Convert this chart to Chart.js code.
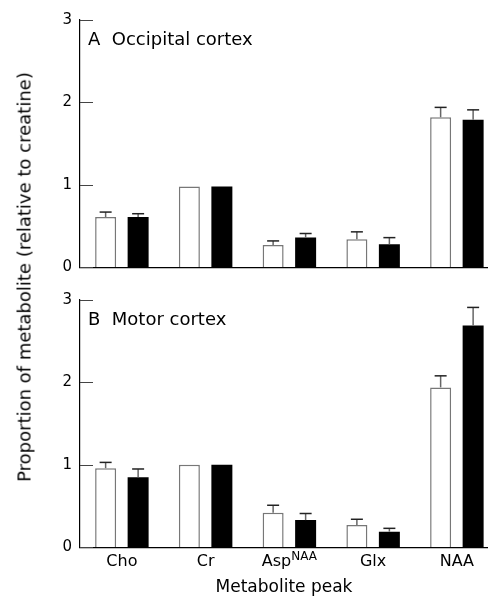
<!DOCTYPE html>
<html>
<head>
<meta charset="utf-8">
<script src="https://cdn.jsdelivr.net/npm/chart.js@4.4.0/dist/chart.umd.min.js"></script>
<style>
  html, body { margin: 0; padding: 0; background: #fff; overflow: hidden; }
  #wrap { position: relative; width: 488px; height: 599px; }
  #topPanel { position: absolute; left: 0; top: 0; }
  #bottomPanel { position: absolute; left: 0; top: 280px; }
  #ytitle {
    position: absolute; left: 24px; top: 277px;
    transform: translate(-50%, -50%) rotate(-90deg);
    white-space: nowrap; font: 18px "DejaVu Sans"; color: #000;
  }
</style>
</head>
<body>
<div id="wrap">
  <canvas id="topPanel" width="488" height="286"></canvas>
  <canvas id="bottomPanel" width="488" height="319"></canvas>
  <div id="ytitle">Proportion of metabolite (relative to creatine)</div>
</div>
<script>
// metabolite peaks on the x axis
const categories = ['Cho', 'Cr', 'AspNAA', 'Glx', 'NAA'];
const yTicks = [0, 1, 2, 3];

// A  Occipital cortex
const occOpen = [0.61, 0.98, 0.27, 0.34, 1.82];
const occOpenErr = [0.06, 0, 0.05, 0.09, 0.12];
const occFilled = [0.61, 0.98, 0.36, 0.28, 1.79];
const occFilledErr = [0.04, 0, 0.05, 0.08, 0.12];

// B  Motor cortex
const motOpen = [0.96, 1.0, 0.42, 0.27, 1.94];
const motOpenErr = [0.07, 0, 0.09, 0.07, 0.14];
const motFilled = [0.85, 1.0, 0.33, 0.19, 2.69];
const motFilledErr = [0.10, 0, 0.08, 0.04, 0.22];

const FONT = '"DejaVu Sans", sans-serif';

// upward error bars with a cap
const errorBars = {
  id: 'errorBars',
  afterDatasetsDraw(chart) {
    const ctx = chart.ctx;
    const yScale = chart.scales.y;
    chart.data.datasets.forEach((ds, di) => {
      const meta = chart.getDatasetMeta(di);
      meta.data.forEach((bar, i) => {
        const err = ds.errors[i];
        if (!err) return;
        const top = yScale.getPixelForValue(ds.data[i].y + err);
        ctx.save();
        ctx.lineWidth = 1.5;
        ctx.strokeStyle = '#666';
        ctx.beginPath();
        ctx.moveTo(bar.x, bar.y);
        ctx.lineTo(bar.x, top);
        ctx.stroke();
        ctx.strokeStyle = '#222';
        ctx.beginPath();
        ctx.moveTo(bar.x - 6, top);
        ctx.lineTo(bar.x + 6, top);
        ctx.stroke();
        ctx.restore();
      });
    });
  }
};

// inward tick marks on the y axis + panel label + superscript label
const panelDecor = {
  id: 'panelDecor',
  afterDraw(chart, args, opts) {
    const ctx = chart.ctx;
    const area = chart.chartArea;
    const yScale = chart.scales.y;
    ctx.save();
    ctx.strokeStyle = '#444';
    ctx.lineWidth = 1;
    yTicks.forEach(v => {
      const y = Math.round(yScale.getPixelForValue(v)) + 0.5;
      ctx.beginPath();
      ctx.moveTo(area.left, y);
      ctx.lineTo(area.left + 13, y);
      ctx.stroke();
    });

    ctx.fillStyle = '#000';
    ctx.font = '18px ' + FONT;
    ctx.textBaseline = 'alphabetic';
    ctx.textAlign = 'left';
    ctx.fillText(opts.label, area.left + 8, area.top + 25);

    if (opts.showX) {
      const xScale = chart.scales.x;
      const cx = xScale.getPixelForValue(2);
      const cy = xScale.top + 5 + 9.6;
      ctx.font = '16px ' + FONT;
      const w1 = ctx.measureText('Asp').width;
      ctx.font = '12px ' + FONT;
      const w2 = ctx.measureText('NAA').width;
      const x0 = cx - (w1 + w2) / 2;
      ctx.textBaseline = 'middle';
      ctx.font = '16px ' + FONT;
      ctx.fillText('Asp', x0, cy);
      ctx.font = '12px ' + FONT;
      ctx.fillText('NAA', x0 + w1, cy - 5);
    }
    ctx.restore();
  }
};

function makePanel(id, label, openVals, openErr, filledVals, filledErr, showX) {
  const toPoints = arr => arr.map((v, i) => ({ x: i, y: v }));
  return new Chart(document.getElementById(id), {
    type: 'bar',
    data: {
      datasets: [
        {
          data: toPoints(openVals),
          errors: openErr,
          backgroundColor: '#fff',
          borderColor: '#777',
          borderWidth: 1.5
        },
        {
          data: toPoints(filledVals),
          errors: filledErr,
          backgroundColor: '#000',
          borderWidth: 0
        }
      ]
    },
    options: {
      responsive: false,
      animation: false,
      devicePixelRatio: 1,
      categoryPercentage: 0.776,
      barPercentage: 0.646,
      layout: { padding: { top: 20, left: 0, right: 0, bottom: 0 } },
      plugins: {
        legend: { display: false },
        tooltip: { enabled: false },
        panelDecor: { label: label, showX: showX }
      },
      scales: {
        x: {
          type: 'linear',
          offset: false,
          min: -0.5,
          max: 4.3716,
          afterBuildTicks: axis => {
            axis.ticks = categories.map((c, i) => ({ value: i }));
          },
          afterFit: axis => { axis.height = showX ? 51.7 : 18.7; },
          grid: { display: false, drawTicks: false, offset: false },
          border: { display: true, color: '#000', width: 1.2 },
          ticks: {
            display: showX,
            padding: 5,
            color: '#000',
            font: { family: FONT, size: 16 },
            maxRotation: 0,
            autoSkip: false,
            callback: v => (categories[v] === 'AspNAA' ? '' : categories[v])
          },
          title: {
            display: showX,
            text: 'Metabolite peak',
            color: '#000',
            font: { family: FONT, size: 17 },
            padding: { top: 0, bottom: 1 }
          }
        },
        y: {
          min: 0,
          max: 3,
          afterFit: axis => { axis.width = 80; },
          afterBuildTicks: axis => {
            axis.ticks = yTicks.map(v => ({ value: v }));
          },
          grid: { display: false, drawTicks: false },
          border: { display: true, color: '#000', width: 1.2 },
          ticks: {
            padding: 8,
            color: '#000',
            font: { family: FONT, size: 15 }
          }
        }
      }
    },
    plugins: [errorBars, panelDecor]
  });
}

makePanel('topPanel', 'A  Occipital cortex', occOpen, occOpenErr, occFilled, occFilledErr, false);
makePanel('bottomPanel', 'B  Motor cortex', motOpen, motOpenErr, motFilled, motFilledErr, true);
</script>
</body>
</html>
